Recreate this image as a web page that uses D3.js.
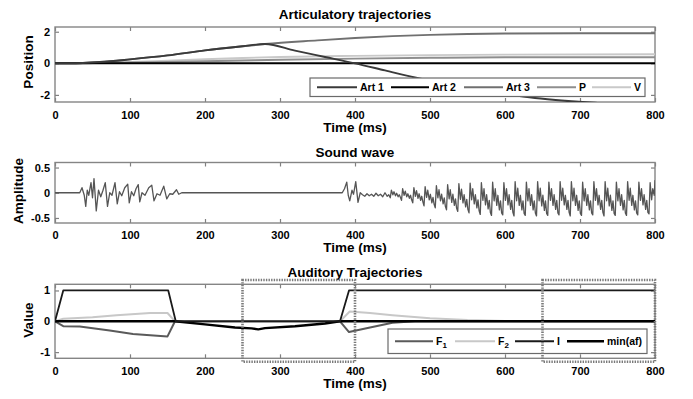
<!DOCTYPE html>
<html>
<head>
<meta charset="utf-8">
<script src="https://cdn.jsdelivr.net/npm/d3@7"></script>
<style>
  html, body { margin: 0; padding: 0; background: #fff; }
  svg { display: block; font-family: "Liberation Sans", Arial, sans-serif; }
  .tick text { font-weight: bold; font-size: 11px; fill: #000; }
  .tick line { stroke: #808080; }
</style>
</head>
<body>
<svg id="chart" width="693" height="399"></svg>
<script>
// ---- Time axis shared by all three panels ----
const timeTicks = [0, 100, 200, 300, 400, 500, 600, 700, 800];

// ---- Panel 1: articulatory trajectories (time ms, position) ----
const artSeriesNames = ["Art 1", "Art 2", "Art 3", "P", "V"];
const art1 = [[0,0],[20,0],[60,0.08],[100,0.25],[150,0.5],[200,0.82],[250,1.08],[280,1.22],
              [320,0.8],[360,0.4],[400,0],[440,-0.45],[480,-0.9],[520,-1.3],[560,-1.65],
              [600,-1.95],[640,-2.2],[680,-2.37],[720,-2.5],[760,-2.6],[800,-2.65]];
const art2 = [[0,0],[800,0]];
const art3 = [[0,0],[20,0],[60,0.08],[100,0.25],[150,0.5],[200,0.82],[250,1.08],[280,1.22],
              [350,1.45],[400,1.6],[450,1.72],[500,1.8],[550,1.86],[600,1.89],[700,1.9],[800,1.9]];
const artP  = [[0,0],[20,0],[60,0.02],[100,0.05],[150,0.09],[200,0.13],[250,0.18],[300,0.23],
              [400,0.3],[500,0.35],[600,0.38],[800,0.38]];
const artV  = [[0,0],[20,0],[60,0.03],[100,0.08],[150,0.17],[200,0.26],[250,0.34],[300,0.4],
              [400,0.47],[500,0.52],[600,0.55],[800,0.57]];
const positionTicks = [-2, 0, 2];

// ---- Panel 2: sound wave (time ms, amplitude) ----
const soundWave = [
  [0,0],[33,0],[36,0.1],[39,-0.05],[41,-0.27],[43,0.05],[45,-0.05],[48,0.2],[50,-0.1],[52,0.28],
  [55,-0.36],[58,0.05],[61,-0.08],[64,0.05],[67,0.2],[70,-0.27],[73,0.0],[76,-0.05],[80,0.2],
  [83,-0.22],[86,0.02],[89,-0.06],[93,0.1],[97,0.17],[99,-0.2],[102,0.02],[105,-0.06],[108,0.08],
  [111,0.16],[113,-0.18],[116,0.0],[120,-0.05],[125,0.1],[129,0.15],[132,-0.16],[136,-0.02],
  [140,-0.05],[145,0.13],[149,-0.12],[153,-0.02],[157,-0.03],[162,0.06],[165,-0.03],[169,0],
  [383,0],[386,0.08],[389,0.21],[391,-0.05],[393,-0.16],[396,0.05],[398,-0.03],[401,0.22],
  [404,-0.19],[407,0.0],[410,-0.04],[413,-0.07],[416,-0.02],[419,-0.06],[422,-0.03],[425,-0.07],
  [428,-0.01],[431,-0.06],[434,-0.03],[437,-0.08],[440,0.0],[443,-0.07],[445,-0.04],
  [447,-0.10],[448.5,0.05],[450.5,-0.04],[452,0.02],[454,-0.06],[455.5,-0.01],[457.5,-0.08],[459,-0.04],[460.5,-0.09],
  [462,-0.15],[463.5,0.08],[465.5,-0.05],[467,0.03],[469,-0.08],[470.5,-0.02],[472.5,-0.11],[474,-0.05],[475.5,-0.14],
  [477,-0.20],[478.5,0.10],[480.5,-0.07],[482,0.04],[484,-0.11],[485.5,-0.02],[487.5,-0.15],[489,-0.07],[490.5,-0.18],
  [492,-0.26],[493.5,0.12],[495.5,-0.09],[497,0.05],[499,-0.14],[500.5,-0.03],[502.5,-0.2],[504,-0.09],[505.5,-0.23],
  [507,-0.30],[508.5,0.14],[510.5,-0.1],[512,0.06],[514,-0.16],[515.5,-0.03],[517.5,-0.22],[519,-0.1],[520.5,-0.27],
  [522,-0.34],[523.5,0.16],[525.5,-0.12],[527,0.06],[529,-0.19],[530.5,-0.03],[532.5,-0.25],[534,-0.12],[535.5,-0.31],
  [537,-0.37],[538.5,0.18],[540.5,-0.13],[542,0.07],[544,-0.2],[545.5,-0.04],[547.5,-0.28],[549,-0.13],[550.5,-0.33],
  [552,-0.40],[553.5,0.19],[555.5,-0.14],[557,0.08],[559,-0.22],[560.5,-0.04],[562.5,-0.3],[564,-0.14],[565.5,-0.36],
  [567,-0.43],[568.5,0.2],[570.5,-0.15],[572,0.08],[574,-0.24],[575.5,-0.04],[577.5,-0.32],[579,-0.15],[580.5,-0.39],
  [582,-0.45],[583.5,0.21],[585.5,-0.16],[587,0.08],[589,-0.25],[590.5,-0.05],[592.5,-0.34],[594,-0.16],[595.5,-0.4],
  [597,-0.44],[598.5,0.2],[600.5,-0.15],[602,0.08],[604,-0.24],[605.5,-0.04],[607.5,-0.33],[609,-0.15],[610.5,-0.39],
  [612,-0.46],[613.5,0.22],[615.5,-0.16],[617,0.09],[619,-0.25],[620.5,-0.05],[622.5,-0.34],[624,-0.16],[625.5,-0.41],
  [627,-0.45],[628.5,0.21],[630.5,-0.16],[632,0.08],[634,-0.25],[635.5,-0.04],[637.5,-0.34],[639,-0.16],[640.5,-0.4],
  [642,-0.46],[643.5,0.22],[645.5,-0.16],[647,0.09],[649,-0.26],[650.5,-0.05],[652.5,-0.35],[654,-0.16],[655.5,-0.41],
  [657,-0.45],[658.5,0.21],[660.5,-0.15],[662,0.08],[664,-0.25],[665.5,-0.04],[667.5,-0.33],[669,-0.15],[670.5,-0.4],
  [672,-0.44],[673.5,0.22],[675.5,-0.15],[677,0.09],[679,-0.24],[680.5,-0.05],[682.5,-0.33],[684,-0.15],[685.5,-0.39],
  [687,-0.46],[688.5,0.22],[690.5,-0.16],[692,0.09],[694,-0.25],[695.5,-0.05],[697.5,-0.35],[699,-0.16],[700.5,-0.41],
  [702,-0.45],[703.5,0.21],[705.5,-0.16],[707,0.08],[709,-0.25],[710.5,-0.04],[712.5,-0.34],[714,-0.16],[715.5,-0.4],
  [717,-0.44],[718.5,0.22],[720.5,-0.15],[722,0.08],[724,-0.24],[725.5,-0.05],[727.5,-0.33],[729,-0.15],[730.5,-0.39],
  [732,-0.46],[733.5,0.22],[735.5,-0.16],[737,0.09],[739,-0.26],[740.5,-0.05],[742.5,-0.35],[744,-0.16],[745.5,-0.41],
  [747,-0.45],[748.5,0.21],[750.5,-0.16],[752,0.08],[754,-0.25],[755.5,-0.04],[757.5,-0.34],[759,-0.15],[760.5,-0.4],
  [762,-0.45],[763.5,0.22],[765.5,-0.15],[767,0.09],[769,-0.25],[770.5,-0.05],[772.5,-0.34],[774,-0.16],[775.5,-0.4],
  [777,-0.44],[778.5,0.21],[780.5,-0.15],[782,0.08],[784,-0.24],[785.5,-0.04],[787.5,-0.33],[789,-0.15],[790.5,-0.39],
  [792,-0.42],[793.5,0.2],[795.5,-0.14],[797,0.08],[799,-0.05],[800,0.25]
];
const amplitudeTicks = [-0.5, 0, 0.5];

// ---- Panel 3: auditory trajectories (time ms, value) ----
const audSeriesNames = ["F1", "F2", "I", "min(af)"];
const audF1   = [[0,0],[11,-0.16],[33,-0.17],[73,-0.3],[104,-0.41],[150,-0.49],[160,0],
                 [380,0],[392,-0.35],[420,-0.2],[450,-0.05],[480,0],[800,0]];
const audF2   = [[0,0],[11,0.08],[50,0.13],[82,0.2],[127,0.27],[150,0.27],[160,0],
                 [380,0],[393,0.32],[420,0.27],[450,0.2],[500,0.1],[550,0.04],[600,0.01],[650,0],[800,0]];
const audI    = [[0,0],[11,1],[151,1],[161,0],[380,0],[392,1],[800,1]];
const audMinAf = [[0,0],[160,0],[200,-0.1],[240,-0.2],[262,-0.23],[271,-0.26],[280,-0.22],[320,-0.16],
                  [360,-0.07],[380,0],[800,0]];
const valueTicks = [-1, 0, 1];
// Highlighted time windows (ms)
const windows = [[250, 400], [650, 800]];

// ---- Drawing ----
const svg = d3.select("#chart");
const x = d3.scaleLinear().domain([0, 800]).range([55, 655]);
const boxStroke = "#858585";

function panel(id, yDomain, yRange, yTicks, title, titleY, yLabel, yLabelX, yLabelY, tickBase, timeLabelY) {
  const y = d3.scaleLinear().domain(yDomain).range(yRange);
  const g = svg.append("g").attr("class", "panel-" + id);
  const top = yRange[1], bottom = yRange[0];

  g.append("clipPath").attr("id", "clip-" + id)
    .append("rect").attr("x", x(0)).attr("y", top).attr("width", x(800) - x(0)).attr("height", bottom - top);

  const axes = g.append("g");
  const tk = 4;
  axes.append("g").attr("transform", `translate(0,${bottom})`)
    .call(d3.axisBottom(x).tickValues(timeTicks).tickSizeInner(-tk).tickSizeOuter(0).tickPadding(tickBase));
  axes.append("g").attr("transform", `translate(0,${top})`)
    .call(d3.axisTop(x).tickValues(timeTicks).tickSizeInner(-tk).tickSizeOuter(0).tickFormat(""));
  axes.append("g").attr("transform", `translate(${x(0)},0)`)
    .call(d3.axisLeft(y).tickValues(yTicks).tickSizeInner(-tk).tickSizeOuter(0).tickPadding(5)
      .tickFormat(d => d === 0 ? "0" : String(d)));
  axes.append("g").attr("transform", `translate(${x(800)},0)`)
    .call(d3.axisRight(y).tickValues(yTicks).tickSizeInner(-tk).tickSizeOuter(0).tickFormat(""));
  axes.selectAll(".domain").remove();
  axes.selectAll(".tick line").attr("stroke", boxStroke).attr("stroke-width", 1.2);
  axes.selectAll(".tick text").attr("font-family", null).attr("font-size", null);

  g.append("rect").attr("x", x(0)).attr("y", top).attr("width", x(800) - x(0)).attr("height", bottom - top)
    .attr("fill", "none").attr("stroke", boxStroke).attr("stroke-width", 1.4);

  g.append("text").attr("x", 355).attr("y", titleY).attr("text-anchor", "middle")
    .attr("font-weight", "bold").attr("font-size", "13.5px").text(title);
  g.append("text").attr("x", 355).attr("y", timeLabelY).attr("text-anchor", "middle")
    .attr("font-weight", "bold").attr("font-size", "13.5px").text("Time (ms)");
  g.append("text").attr("transform", `translate(${yLabelX},${yLabelY}) rotate(-90)`)
    .attr("text-anchor", "middle").attr("dy", "0.35em")
    .attr("font-weight", "bold").attr("font-size", "13.5px").text(yLabel);

  const plot = g.append("g").attr("clip-path", `url(#clip-${id})`);
  return { g, y, plot, top, bottom };
}

function drawLine(plot, y, data, color, width, curve) {
  plot.append("path").datum(data)
    .attr("fill", "none").attr("stroke", color).attr("stroke-width", width)
    .attr("stroke-linejoin", "round")
    .attr("d", d3.line().x(d => x(d[0])).y(d => y(d[1])).curve(curve || d3.curveLinear));
}

function legend(g, items, left, top, right, bottom, baseline) {
  const lg = g.append("g");
  lg.append("rect").attr("x", left).attr("y", top).attr("width", right - left).attr("height", bottom - top)
    .attr("fill", "#fff").attr("stroke", "#6a6a6a").attr("stroke-width", 1.2);
  items.forEach(it => {
    lg.append("line").attr("x1", it.x0).attr("x2", it.x1).attr("y1", (top + bottom) / 2).attr("y2", (top + bottom) / 2)
      .attr("stroke", it.color).attr("stroke-width", it.width);
    const t = lg.append("text").attr("x", it.x1 + 3).attr("y", baseline)
      .attr("font-weight", "bold").attr("font-size", "10.5px");
    t.append("tspan").text(it.label);
    if (it.sub) t.append("tspan").attr("dy", 3).attr("font-size", "8px").text(it.sub);
  });
}

// Panel 1
const p1 = panel(1, [-2.45, 2.3], [102, 27], positionTicks, "Articulatory trajectories", 18.5,
                 "Position", 28, 62, 9, 131.5);
const artColors = ["#3a3a3a", "#000000", "#707070", "#8e8e8e", "#c9c9c9"];
const artWidths = [1.9, 2.1, 1.9, 1.9, 1.9];
[artV, artP, art3, art2, art1].forEach((s, i) => {
  const k = 4 - i;
  drawLine(p1.plot, p1.y, s, artColors[k], artWidths[k], d3.curveMonotoneX);
});
legend(p1.g, [
  { label: artSeriesNames[0], x0: 317, x1: 357, color: artColors[0], width: artWidths[0] },
  { label: artSeriesNames[1], x0: 391, x1: 429, color: artColors[1], width: artWidths[1] },
  { label: artSeriesNames[2], x0: 464, x1: 503, color: artColors[2], width: artWidths[2] },
  { label: artSeriesNames[3], x0: 537, x1: 576, color: artColors[3], width: artWidths[3] },
  { label: artSeriesNames[4], x0: 592, x1: 631, color: artColors[4], width: artWidths[4] }
], 310, 78, 645, 96.5, 91);

// Panel 2
const p2 = panel(2, [-0.6, 0.6], [223, 162.5], amplitudeTicks, "Sound wave", 156.5,
                 "Amplitude", 18.5, 191, 8.5, 252);
drawLine(p2.plot, p2.y, soundWave, "#555555", 1.3);

// Panel 3
const p3 = panel(3, [-1.2, 1.2], [358.3, 284.3], valueTicks, "Auditory Trajectories", 276.5,
                 "Value", 28.5, 320, 9.2, 388);
const audColors = ["#5a5a5a", "#c8c8c8", "#1a1a1a", "#000000"];
const audWidths = [2, 2, 1.8, 2.4];
drawLine(p3.plot, p3.y, audF2, audColors[1], audWidths[1]);
drawLine(p3.plot, p3.y, audF1, audColors[0], audWidths[0]);
drawLine(p3.plot, p3.y, audMinAf, audColors[3], audWidths[3]);
drawLine(p3.plot, p3.y, audI, audColors[2], audWidths[2]);
legend(p3.g, [
  { label: "F", sub: "1", x0: 395, x1: 433, color: audColors[0], width: audWidths[0] },
  { label: "F", sub: "2", x0: 455, x1: 495, color: audColors[1], width: audWidths[1] },
  { label: audSeriesNames[2], x0: 515, x1: 554, color: audColors[2], width: audWidths[2] },
  { label: audSeriesNames[3], x0: 567, x1: 604, color: audColors[3], width: audWidths[3] }
], 388, 329, 647, 353.5, 345);

// Dotted highlight windows
p3.g.selectAll("rect.window").data(windows).join("rect").attr("class", "window")
  .attr("x", d => x(d[0])).attr("width", d => x(d[1]) - x(d[0]))
  .attr("y", p3.y(1.34)).attr("height", p3.y(-1.31) - p3.y(1.34))
  .attr("fill", "none").attr("stroke", "#7a7a7a").attr("stroke-width", 2.6)
  .attr("stroke-dasharray", "1.4,1.2");
</script>
</body>
</html>
